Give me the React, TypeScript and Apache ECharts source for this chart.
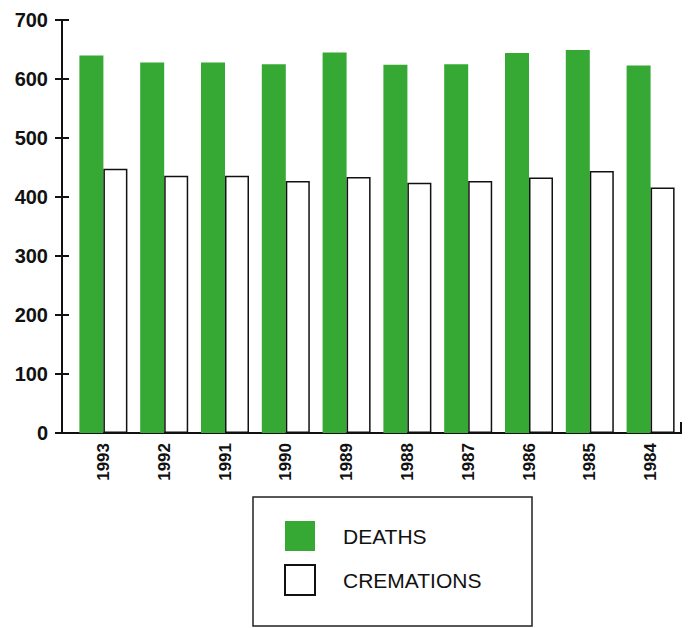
import React, { useEffect, useRef } from "react";
import * as echarts from "echarts";

const years = ["1993", "1992", "1991", "1990", "1989", "1988", "1987", "1986", "1985", "1984"];
const deaths = [640, 628, 628, 625, 645, 624, 625, 644, 649, 623];
const cremations = [448, 436, 436, 427, 434, 424, 427, 433, 444, 416];
const yTicks = [0, 100, 200, 300, 400, 500, 600, 700];

export default function App() {
  const ref = useRef<HTMLDivElement>(null);
  useEffect(() => {
    if (!ref.current) return;
    const chart = echarts.init(ref.current, null, { renderer: "svg" });
    const font = "'Liberation Sans', Arial, Helvetica, sans-serif";
    const yMax = yTicks[yTicks.length - 1];
    chart.setOption({
      animation: false,
      backgroundColor: "#ffffff",
      grid: { left: 73, right: 10, top: 20, bottom: 195, containLabel: false },
      legend: {
        orient: "vertical",
        left: 284,
        top: 521,
        padding: 0,
        itemWidth: 30,
        itemHeight: 30,
        itemGap: 13,
        icon: "rect",
        textStyle: { fontFamily: font, fontSize: 21, color: "#111", padding: [4, 0, 0, 23] },
        data: ["DEATHS", "CREMATIONS"],
      },
      xAxis: {
        type: "category",
        data: years,
        axisLine: { show: true, lineStyle: { color: "#111", width: 2 } },
        axisTick: { show: false },
        axisLabel: {
          rotate: 90,
          margin: 10,
          fontFamily: font,
          fontSize: 17,
          fontWeight: "bold",
          color: "#111",
        },
      },
      yAxis: [
        {
          type: "value",
          min: 0,
          max: yMax,
          interval: 100,
          offset: 11,
          splitLine: { show: false },
          axisLine: { show: true, lineStyle: { color: "#111", width: 2 } },
          axisTick: { show: true, length: 7, lineStyle: { color: "#111", width: 2 } },
          axisLabel: {
            margin: 14,
            fontFamily: font,
            fontSize: 20,
            fontWeight: "bold",
            color: "#111",
          },
        },
        {
          type: "value",
          position: "left",
          min: 0,
          max: yMax,
          interval: 100,
          offset: 11,
          splitLine: { show: false },
          axisLine: { show: false },
          axisTick: { show: true, inside: true, length: 7, lineStyle: { color: "#111", width: 2 } },
          axisLabel: { show: false },
        },
      ],
      graphic: [
        { type: "line", shape: { x1: 61, y1: 433, x2: 74, y2: 433 }, style: { stroke: "#111", lineWidth: 2 } },
        { type: "line", shape: { x1: 681, y1: 434, x2: 681, y2: 422 }, style: { stroke: "#111", lineWidth: 2 } },
        {
          type: "rect",
          shape: { x: 253, y: 497, width: 279, height: 129 },
          style: { fill: "none", stroke: "#222", lineWidth: 1.5 },
          z: -1,
        },
      ],
      series: [
        {
          name: "DEATHS",
          type: "bar",
          data: deaths,
          barWidth: 24,
          barGap: "0%",
          itemStyle: { color: "#36a834" },
        },
        {
          name: "CREMATIONS",
          type: "bar",
          data: cremations,
          barWidth: 24,
          itemStyle: { color: "#ffffff", borderColor: "#111", borderWidth: 1.5 },
        },
      ],
    });
    return () => chart.dispose();
  }, []);
  return (
    <div
      ref={ref}
      style={{ position: "absolute", left: 0, top: 0, width: 691, height: 628 }}
    />
  );
}
